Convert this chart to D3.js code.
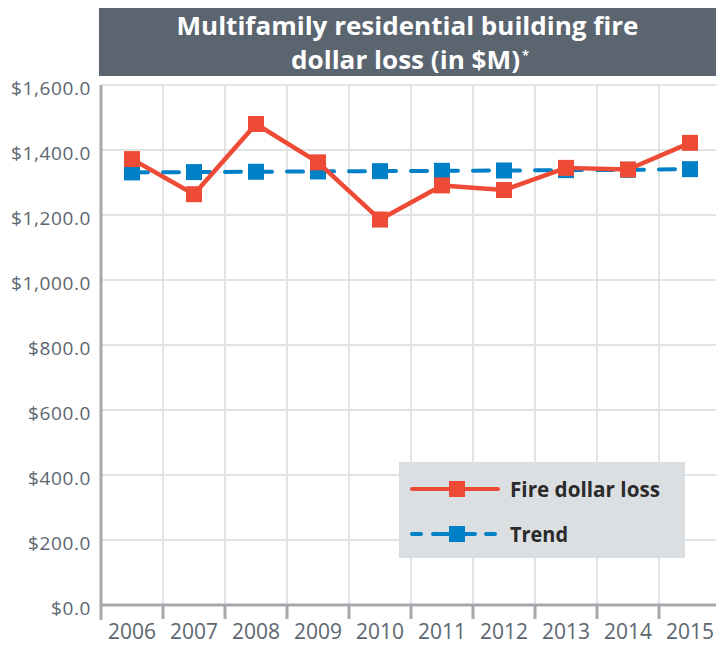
<!DOCTYPE html>
<html>
<head>
<meta charset="utf-8">
<script src="https://cdn.jsdelivr.net/npm/d3@7"></script>
<style>
  body { margin: 0; background: #fff; }
  svg { display: block; font-family: "Open Sans", sans-serif; }
</style>
</head>
<body>
<div id="chart"></div>
<script>
// Chart data
const years = ['2006', '2007', '2008', '2009', '2010', '2011', '2012', '2013', '2014', '2015'];
const fireLoss = [1372, 1264, 1480, 1362, 1186, 1291, 1277, 1345, 1340, 1422];
const trend = [1331, 1332, 1333, 1334, 1335, 1336, 1337, 1338, 1339, 1341];
const yTicks = [0, 200, 400, 600, 800, 1000, 1200, 1400, 1600];
const titleLines = ['Multifamily residential building fire', 'dollar loss (in $M)'];
const legendItems = ['Fire dollar loss', 'Trend'];

const W = 716, H = 646;
const red = '#ee4b36', blue = '#0080c6';
const gridColor = '#e1e3e5', axisColor = '#a5a9ad', textColor = '#5c6670';

const svg = d3.select('#chart').append('svg')
    .attr('width', W)
    .attr('height', H);

// scales: plot runs a bit past the right edge, like the original
const x = d3.scaleBand().domain(years).range([101, 721]).padding(0);
const y = d3.scaleLinear().domain([0, 1600]).range([605, 85]);
const cx = d => x(d) + x.bandwidth() / 2;

// title box
svg.append('rect')
    .attr('x', 99).attr('y', 8)
    .attr('width', W - 99).attr('height', 68)
    .attr('fill', '#5a6570');

const titleX = (99 + W) / 2;
svg.append('text')
    .attr('x', titleX).attr('y', 35)
    .attr('text-anchor', 'middle')
    .attr('fill', '#fff')
    .attr('font-size', 24.5).attr('font-weight', 700)
    .attr('textLength', 462).attr('lengthAdjust', 'spacingAndGlyphs')
    .text(titleLines[0]);

svg.append('text')
    .attr('x', 291).attr('y', 69)
    .attr('fill', '#fff')
    .attr('font-size', 24.5).attr('font-weight', 700)
    .attr('textLength', 229).attr('lengthAdjust', 'spacingAndGlyphs')
    .text(titleLines[1]);
// superscript asterisk kept as its own small text
svg.append('text')
    .attr('x', 522).attr('y', 60)
    .attr('fill', '#fff')
    .attr('font-size', 13).attr('font-weight', 700)
    .text('*');

// horizontal gridlines
svg.append('g')
    .selectAll('line')
    .data(yTicks.filter(d => d > 0))
    .join('line')
    .attr('x1', 101).attr('x2', W)
    .attr('y1', d => y(d)).attr('y2', d => y(d))
    .attr('stroke', gridColor).attr('stroke-width', 2);

// vertical gridlines at band edges
const edges = years.map(d => x(d)).concat([x(years[years.length - 1]) + x.bandwidth()]);
svg.append('g')
    .selectAll('line')
    .data(edges.slice(1))
    .join('line')
    .attr('x1', d => d).attr('x2', d => d)
    .attr('y1', 85).attr('y2', 605)
    .attr('stroke', gridColor).attr('stroke-width', 2);

// y axis labels
const yAxis = d3.axisLeft(y)
    .tickValues(yTicks)
    .tickSize(0)
    .tickPadding(10)
    .tickFormat(d => '$' + d3.format(',.1f')(d));
svg.append('g')
    .attr('transform', 'translate(101,3)')
    .call(yAxis)
    .call(g => g.select('.domain').remove())
    .call(g => g.selectAll('text')
        .attr('fill', textColor)
        .attr('font-size', 19)
        .attr('letter-spacing', 0.6)
        .attr('font-family', '"Open Sans", sans-serif'));

// x axis labels
const xAxis = d3.axisBottom(x).tickSize(0).tickPadding(19);
svg.append('g')
    .attr('transform', 'translate(0,605)')
    .call(xAxis)
    .call(g => g.select('.domain').remove())
    .call(g => g.selectAll('text')
        .attr('fill', textColor)
        .attr('font-size', 21)
        .attr('font-family', '"Open Sans", sans-serif'));

// axis lines and tick marks
svg.append('line')
    .attr('x1', 101).attr('x2', 101)
    .attr('y1', 85).attr('y2', 620)
    .attr('stroke', axisColor).attr('stroke-width', 3);
svg.append('line')
    .attr('x1', 101).attr('x2', W)
    .attr('y1', 605).attr('y2', 605)
    .attr('stroke', axisColor).attr('stroke-width', 3);
svg.append('g')
    .selectAll('line')
    .data(edges.slice(1))
    .join('line')
    .attr('x1', d => d).attr('x2', d => d)
    .attr('y1', 605).attr('y2', 619)
    .attr('stroke', axisColor).attr('stroke-width', 3);

// trend line (dashed)
const trendLine = d3.line()
    .x((d, i) => cx(years[i]))
    .y(d => y(d));
svg.append('path')
    .datum(trend)
    .attr('fill', 'none')
    .attr('stroke', blue)
    .attr('stroke-width', 4)
    .attr('stroke-linecap', 'round')
    .attr('stroke-dasharray', '16,15')
    .attr('d', trendLine);
svg.append('g')
    .selectAll('rect')
    .data(trend)
    .join('rect')
    .attr('x', (d, i) => cx(years[i]) - 8)
    .attr('y', d => y(d) - 8)
    .attr('width', 16).attr('height', 16)
    .attr('fill', blue);

// fire dollar loss line
const lossLine = d3.line()
    .x((d, i) => cx(years[i]))
    .y(d => y(d));
svg.append('path')
    .datum(fireLoss)
    .attr('fill', 'none')
    .attr('stroke', red)
    .attr('stroke-width', 4.5)
    .attr('stroke-linejoin', 'round')
    .attr('d', lossLine);
svg.append('g')
    .selectAll('rect')
    .data(fireLoss)
    .join('rect')
    .attr('x', (d, i) => cx(years[i]) - 8)
    .attr('y', d => y(d) - 8)
    .attr('width', 16).attr('height', 16)
    .attr('fill', red);

// legend
const legend = svg.append('g').attr('transform', 'translate(399,462)');
legend.append('rect')
    .attr('width', 286).attr('height', 96)
    .attr('fill', '#dcdfe2');

legend.append('line')
    .attr('x1', 13).attr('x2', 99)
    .attr('y1', 27).attr('y2', 27)
    .attr('stroke', red).attr('stroke-width', 4)
    .attr('stroke-linecap', 'round');
legend.append('rect')
    .attr('x', 50).attr('y', 19)
    .attr('width', 16).attr('height', 16)
    .attr('fill', red);

legend.append('line')
    .attr('x1', 13).attr('x2', 99)
    .attr('y1', 72).attr('y2', 72)
    .attr('stroke', blue).attr('stroke-width', 4)
    .attr('stroke-linecap', 'round')
    .attr('stroke-dasharray', '9,12,42,11,9');
legend.append('rect')
    .attr('x', 50).attr('y', 64)
    .attr('width', 16).attr('height', 16)
    .attr('fill', blue);

legend.selectAll('text.lab')
    .data(legendItems)
    .join('text')
    .attr('class', 'lab')
    .attr('x', 111)
    .attr('y', (d, i) => 35 + i * 45)
    .attr('fill', '#2b2b2b')
    .attr('font-size', 21)
    .attr('font-weight', 700)
    .attr('textLength', (d, i) => i === 0 ? 150 : 58)
    .attr('lengthAdjust', 'spacingAndGlyphs')
    .text(d => d);
</script>
</body>
</html>
